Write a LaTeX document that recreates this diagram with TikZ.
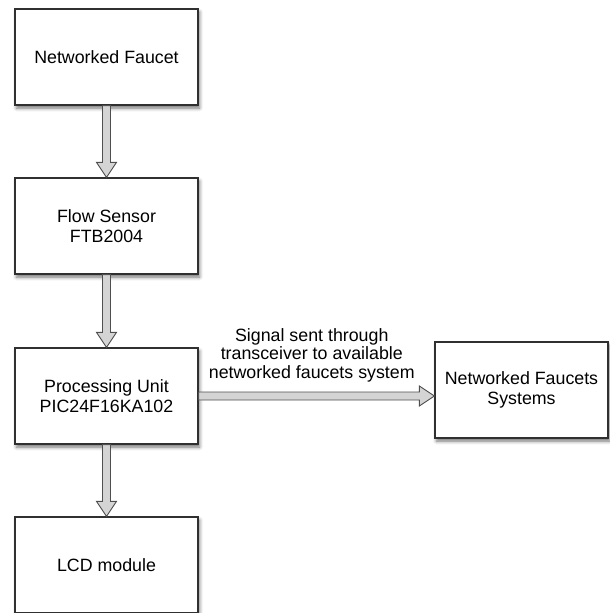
\documentclass[tikz,border=0pt]{standalone}
\usepackage{fontspec}
\setmainfont{Liberation Sans}
\usetikzlibrary{calc,shadows.blur}
\definecolor{edge}{HTML}{303030}
\definecolor{arrowfill}{HTML}{D4D4D4}
\tikzset{
  block/.style={draw=edge, line width=1.2pt, fill=white, minimum width=183pt,
    minimum height=96pt, inner sep=0pt, align=center,
    font=\fontsize{17.8}{19.5}\selectfont,
    blur shadow={shadow xshift=1.5pt, shadow yshift=-3pt, shadow blur radius=3.5pt, shadow opacity=55}},
  hollowarrow/.style={draw=edge!85, line width=0.9pt, fill=arrowfill, line join=miter},
  sidelabel/.style={align=center, inner sep=0pt, font=\fontsize{17.8}{18.5}\selectfont}
}
% fat hollow arrow pointing down, from the bottom of #1 to the top of #2
\newcommand\arrowdown[2]{%
  \path let \p1=(#1.south), \p2=(#2.north) in [hollowarrow]
    (\x1-4pt,\y1) -- (\x1-4pt,\y2+15pt) -- (\x1-10pt,\y2+15pt) -- (\x1,\y2)
    -- (\x1+10pt,\y2+15pt) -- (\x1+4pt,\y2+15pt) -- (\x1+4pt,\y1) -- cycle;}
% fat hollow arrow pointing right, from the right of #1 to the left of #2
\newcommand\arrowright[2]{%
  \path let \p1=(#1.east), \p2=(#2.west) in [hollowarrow]
    (\x1,\y1+4pt) -- (\x2-15pt,\y1+4pt) -- (\x2-15pt,\y1+10pt) -- (\x2,\y1)
    -- (\x2-15pt,\y1-10pt) -- (\x2-15pt,\y1-4pt) -- (\x1,\y1-4pt) -- cycle;}
\begin{document}
\begin{tikzpicture}[x=1pt,y=-1pt]
\useasboundingbox (0,0) rectangle (610,613);

\node[block] (faucet) at (106.5,57) {Networked Faucet};
\node[block] (sensor) at (106.5,226) {Flow Sensor\\FTB2004};
\node[block] (cpu)    at (106.5,396) {Processing Unit\\PIC24F16KA102};
\node[block] (lcd)    at (106.5,565) {LCD module};
\node[block, minimum width=173pt] (net) at (521.5,390) {Networked Faucets\\Systems};

\arrowdown{faucet}{sensor}
\arrowdown{sensor}{cpu}
\arrowdown{cpu}{lcd}
\arrowright{cpu}{net}

\coordinate (mid) at ($(cpu.east)!0.48!(net.west)$);
\node[sidelabel, anchor=south] (sig) at ([yshift=11pt]mid)
  {Signal sent through\\transceiver to available\\networked faucets system};
\end{tikzpicture}
\end{document}
